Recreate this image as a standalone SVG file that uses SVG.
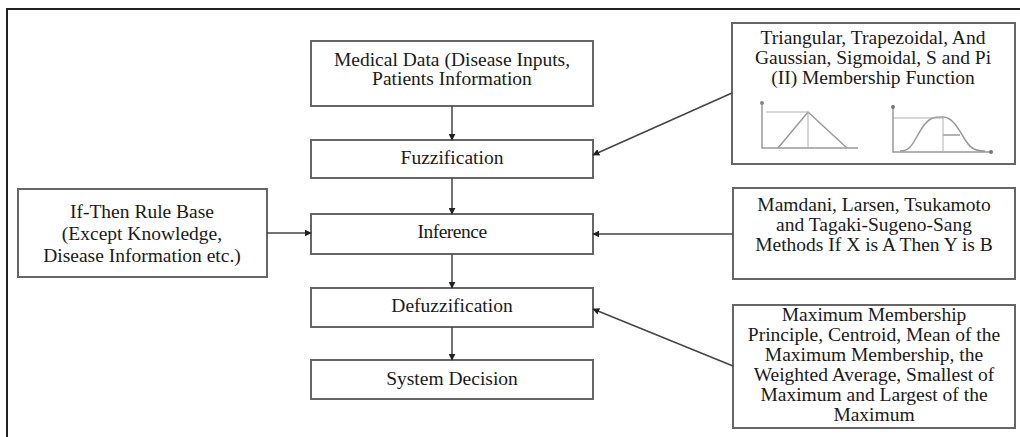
<svg xmlns="http://www.w3.org/2000/svg" width="1020" height="437" viewBox="0 0 1020 437">
<style>
.box{fill:#fff;stroke:#666;stroke-width:2}
.t{font-family:"Liberation Serif","Times New Roman",serif;font-size:19.5px;fill:#1a1a1a;text-anchor:middle}
.c{stroke:#444;stroke-width:1.5;fill:none}
.g{stroke:#999;stroke-width:1.5;fill:none}
.gd{stroke:#b0b0b0;stroke-width:1;fill:none}
</style>
<defs>
<marker id="ah" viewBox="0 0 10 10" refX="9" refY="5" markerWidth="7" markerHeight="7" markerUnits="userSpaceOnUse" orient="auto">
<path d="M0,0 L10,5 L0,10 z" fill="#222"/>
</marker>
</defs>
<rect width="1020" height="437" fill="#fff"/>
<path d="M7,437 V9 H1020" fill="none" stroke="#222" stroke-width="2"/>
<g id="medical"><rect class="box" x="311" y="41" width="282" height="65"/>
<text class="t" x="452" y="66">Medical Data (Disease Inputs,</text>
<text class="t" x="452" y="85">Patients Information</text></g>
<g id="fuzz"><rect class="box" x="311" y="140" width="282" height="38"/>
<text class="t" x="452" y="164">Fuzzification</text></g>
<g id="inference"><rect class="box" x="311" y="214" width="282" height="40"/>
<text class="t" x="452" y="238" style="letter-spacing:-0.5px">Inference</text></g>
<g id="defuzz"><rect class="box" x="311" y="288" width="282" height="39"/>
<text class="t" x="452" y="312">Defuzzification</text></g>
<g id="decision"><rect class="box" x="311" y="360" width="282" height="39"/>
<text class="t" x="452" y="385">System Decision</text></g>
<g id="rulebase"><rect class="box" x="18" y="189" width="249" height="88"/>
<text class="t" x="142" y="218">If-Then Rule Base</text>
<text class="t" x="142" y="240">(Except Knowledge,</text>
<text class="t" x="142" y="262">Disease Information etc.)</text></g>
<g id="membership"><rect class="box" x="732" y="23" width="283" height="141"/>
<text class="t" x="873" y="44">Triangular, Trapezoidal, And</text>
<text class="t" x="873" y="64">Gaussian, Sigmoidal, S and Pi</text>
<text class="t" x="873" y="84">(II) Membership Function</text>
<path class="g" d="M762,103 V148 H858"/>
<circle cx="762" cy="103" r="2" fill="#888"/>
<path class="g" d="M778,148 L808,112 L847,148"/>
<path class="gd" d="M808,112 V148 M766,112 H808"/>
<path class="g" d="M893,107 V152 H990"/>
<circle cx="893" cy="107" r="2" fill="#777"/>
<circle cx="991" cy="152" r="2" fill="#777"/>
<path class="g" d="M900,151 C912,151 914,140 922,128 C930,116 936,117 943,117 C952,117 958,128 964,138 C970,148 974,151 985,151"/>
<path class="g" d="M943,135 H960"/>
<path class="gd" d="M893,118 H943 M943,118 V152"/></g>
<g id="methods"><rect class="box" x="733" y="188" width="282" height="91"/>
<text class="t" x="874" y="211">Mamdani, Larsen, Tsukamoto</text>
<text class="t" x="874" y="231">and Tagaki-Sugeno-Sang</text>
<text class="t" x="874" y="251">Methods If X is A Then Y is B</text></g>
<g id="defmethods"><rect class="box" x="733" y="305" width="282" height="123"/>
<text class="t" x="874" y="321">Maximum Membership</text>
<text class="t" x="874" y="341">Principle, Centroid, Mean of the</text>
<text class="t" x="874" y="361">Maximum Membership, the</text>
<text class="t" x="874" y="381">Weighted Average, Smallest of</text>
<text class="t" x="874" y="401">Maximum and Largest of the</text>
<text class="t" x="874" y="421">Maximum</text></g>
<g id="connectors">
<line class="c" x1="452" y1="106" x2="452" y2="140" marker-end="url(#ah)"/>
<line class="c" x1="452" y1="178" x2="452" y2="214" marker-end="url(#ah)"/>
<line class="c" x1="452" y1="254" x2="452" y2="288" marker-end="url(#ah)"/>
<line class="c" x1="452" y1="327" x2="452" y2="360" marker-end="url(#ah)"/>
<line class="c" x1="267" y1="233" x2="311" y2="233" marker-end="url(#ah)"/>
<line class="c" x1="733" y1="234" x2="593" y2="234" marker-end="url(#ah)"/>
<line class="c" x1="732" y1="93" x2="593" y2="155" marker-end="url(#ah)"/>
<line class="c" x1="733" y1="366" x2="593" y2="309" marker-end="url(#ah)"/>
</g>
</svg>
